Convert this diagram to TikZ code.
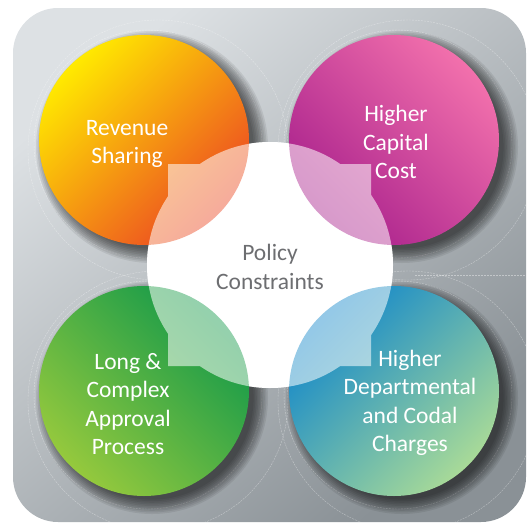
\documentclass[tikz,border=0pt]{standalone}
\usepackage{fontspec}
\setmainfont{Carlito}
\usetikzlibrary{positioning, calc}
\definecolor{bgTop}{HTML}{DDE1E4}
\definecolor{bgBot}{HTML}{8A9196}
\definecolor{revA}{HTML}{FFEA00}
\definecolor{revB}{HTML}{F68B1F}
\definecolor{revC}{HTML}{EC4623}
\definecolor{capA}{HTML}{F270AC}
\definecolor{capB}{HTML}{A8208C}
\definecolor{aprA}{HTML}{12994A}
\definecolor{aprB}{HTML}{95C93D}
\definecolor{chgA}{HTML}{1287CB}
\definecolor{chgB}{HTML}{A8DA98}
\definecolor{polText}{HTML}{6D6E71}

\tikzset{
  bubble/.style={circle, minimum size=210pt, inner sep=0pt},
  lbl/.style={text=white, align=center, font=\fontsize{23.5}{28.5}\selectfont},
  guide/.style={white, opacity=0.4, line width=0.4pt, dash pattern=on 2pt off 1pt}
}

\begin{document}
\begin{tikzpicture}[x=1pt, y=-1pt]
\useasboundingbox (0,0) rectangle (530,525);

% backdrop
\shade[top color=bgTop, bottom color=bgBot, shading angle=40, rounded corners=45pt]
  (13,8) rectangle (526,522);

\coordinate (revC) at (144,140);
\coordinate (capC) at (394,140);
\coordinate (aprC) at (144,391);
\coordinate (chgC) at (394,391);
\coordinate (polC) at (270,265);

% faint guide arcs
\begin{scope}
\clip[rounded corners=45pt] (13,8) rectangle (526,522);
\foreach \c in {revC, capC, aprC, chgC} {
  \draw[guide] ($(\c)+(4,4)$) circle (114pt);
  \draw[guide] ($(\c)+(14,10)$) circle (130pt);
}
\draw[guide] (415,275) -- (526,275);
\end{scope}

% soft shadows
\foreach \c in {revC, capC, aprC, chgC} {
  \foreach \k in {1,...,10}
    \fill[black, opacity=0.075] ($(\c)+(8,7)$) circle ({100pt+\k*1.6pt});
}

% centre shape
\fill[white] (polC) circle (123pt);
\fill[white] (168,164) rectangle (371,366);

% four circles
\node[bubble, top color=revA, middle color=revB, bottom color=revC, shading angle=45] (rev) at (revC) {};
\node[bubble, top color=capA, bottom color=capB, shading angle=-45] (cap) at (capC) {};
\node[bubble, top color=aprA, bottom color=aprB, shading angle=-45] (apr) at (aprC) {};
\node[bubble, top color=chgA, bottom color=chgB, shading angle=45] (chg) at (chgC) {};

% veil over the overlaps
\begin{scope}[transparency group, opacity=0.55]
\fill[white] (polC) circle (123pt);
\fill[white] (168,164) rectangle (371,366);
\end{scope}

% labels
\node[lbl] (revT) at (127,144) {Revenue\\Sharing};
\node[lbl] (capT) at (396,142) {Higher\\Capital\\Cost};
\node[lbl] (aprT) at (128,404) {Long \&\\Complex\\Approval\\Process};
\node[lbl] (chgT) at (410,403) {Higher\\Departmental\\and Codal\\Charges};
\node[lbl, text=polText] (polT) at (270,267) {Policy\\Constraints};
\end{tikzpicture}
\end{document}
